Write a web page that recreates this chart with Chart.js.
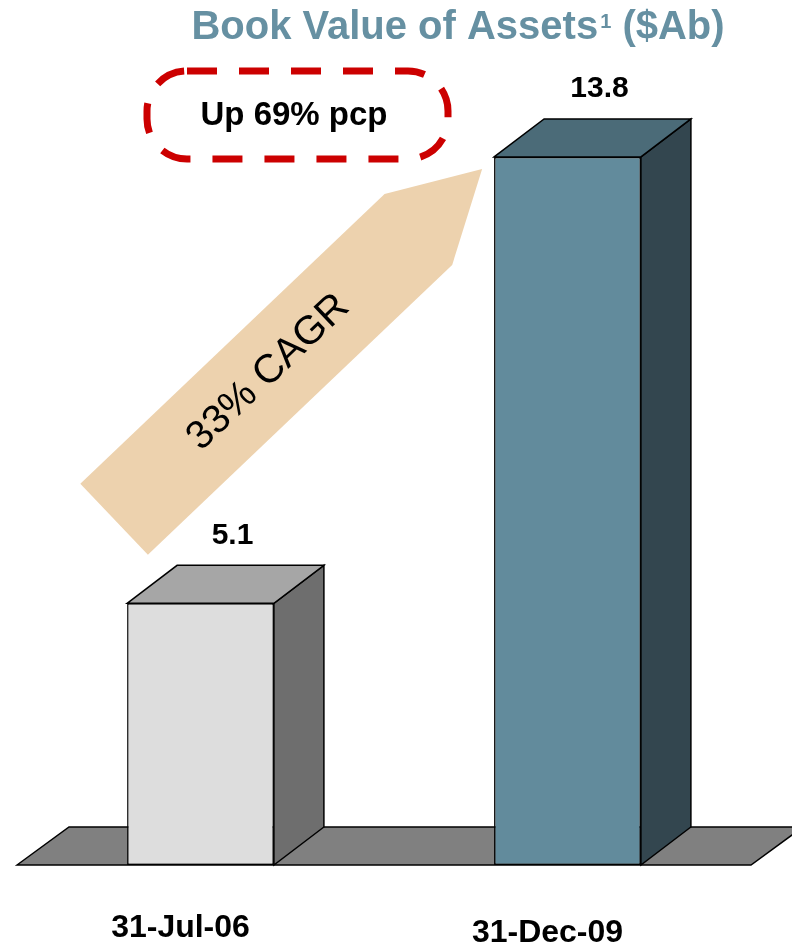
<!DOCTYPE html>
<html>
<head>
<meta charset="utf-8">
<script src="https://cdn.jsdelivr.net/npm/chart.js@4.4.1/dist/chart.umd.min.js"></script>
<style>
  html, body { margin: 0; padding: 0; background: #fff; }
</style>
</head>
<body>
<canvas id="chart" width="792" height="946"></canvas>
<script>
/* === DATA === */
const categories = ['31-Jul-06', '31-Dec-09'];
const bookValues = [5.1, 13.8];
const frontColors = ['#DDDDDD', '#628B9C'];
const topColors = ['#A6A6A6', '#4B6B78'];
const sideColors = ['#6E6E6E', '#33464F'];
const titleMain = 'Book Value of Assets';
const titleSup = '1';
const titleTail = ' ($Ab)';
const growthNote = 'Up 69% pcp';
const cagrNote = '33% CAGR';

const FONT = '"Liberation Sans", Arial, sans-serif';
const DX = 50, DY = 38; // hloubka 3D efektu

function poly(ctx, pts, fill) {
    ctx.beginPath();
    ctx.moveTo(pts[0][0], pts[0][1]);
    for (let i = 1; i < pts.length; i++) ctx.lineTo(pts[i][0], pts[i][1]);
    ctx.closePath();
    ctx.fillStyle = fill;
    ctx.fill();
    ctx.stroke();
}

function roundRect(ctx, x, y, w, h, r) {
    ctx.beginPath();
    ctx.moveTo(x + r, y);
    ctx.lineTo(x + w - r, y);
    ctx.arcTo(x + w, y, x + w, y + r, r);
    ctx.lineTo(x + w, y + h - r);
    ctx.arcTo(x + w, y + h, x + w - r, y + h, r);
    ctx.lineTo(x + r, y + h);
    ctx.arcTo(x, y + h, x, y + h - r, r);
    ctx.lineTo(x, y + r);
    ctx.arcTo(x, y, x + r, y, r);
    ctx.closePath();
}

const box3d = {
    id: 'box3d',
    beforeDatasetsDraw(chart) {
        const { ctx, chartArea } = chart;
        const b = chartArea.bottom;
        ctx.save();
        ctx.lineWidth = 1.5;
        ctx.strokeStyle = '#000';
        poly(ctx, [
            [chartArea.left, b], [chartArea.left + 52, b - DY],
            [chartArea.right + 52, b - DY], [chartArea.right, b]
        ], '#808080');
        ctx.restore();
    },
    afterDatasetsDraw(chart) {
        const { ctx } = chart;
        const meta = chart.getDatasetMeta(0);
        ctx.save();
        ctx.lineWidth = 1.5;
        ctx.strokeStyle = '#000';
        meta.data.forEach((bar, i) => {
            const half = bar.width / 2;
            const l = bar.x - half, r = bar.x + half, t = bar.y, bt = bar.base;
            poly(ctx, [[r, bt], [r, t], [r + DX, t - DY], [r + DX, bt - DY]], sideColors[i]);
            poly(ctx, [[l, t], [l + DX, t - DY], [r + DX, t - DY], [r, t]], topColors[i]);
            ctx.fillStyle = '#000';
            ctx.font = 'bold 30px ' + FONT;
            ctx.textAlign = 'center';
            ctx.textBaseline = 'middle';
            ctx.fillText(bookValues[i].toFixed(1), bar.x + 32, t - 68);
        });
        ctx.restore();
    },
    afterDraw(chart) {
        const { ctx } = chart;
        const bars = chart.getDatasetMeta(0).data;
        ctx.save();

        // titulek s horním indexem
        ctx.fillStyle = '#6690A2';
        ctx.textAlign = 'left';
        ctx.textBaseline = 'alphabetic';
        const mainFont = 'bold 40px ' + FONT, supFont = 'bold 20px ' + FONT;
        ctx.font = mainFont;
        const w1 = ctx.measureText(titleMain).width;
        const w3 = ctx.measureText(titleTail).width;
        ctx.font = supFont;
        const w2 = ctx.measureText(titleSup).width + 2;
        let tx = 458 - (w1 + w2 + w3) / 2;
        ctx.font = mainFont;
        ctx.fillText(titleMain, tx, 39);
        ctx.font = supFont;
        ctx.fillText(titleSup, tx + w1 + 2, 28);
        ctx.font = mainFont;
        ctx.fillText(titleTail, tx + w1 + w2, 39);

        // šipka CAGR
        const b1 = bars[0], b2 = bars[1];
        const tail = [b1.x - b1.width / 2 - 13, b1.y - 84];
        const tip = [b2.x - b2.width / 2 - 12, b2.y + 12];
        const len = Math.hypot(tip[0] - tail[0], tip[1] - tail[1]);
        const ux = (tip[0] - tail[0]) / len, uy = (tip[1] - tail[1]) / len;
        const nx = -uy, ny = ux;
        const w = 49, head = 88;
        const hb = [tip[0] - ux * head, tip[1] - uy * head];
        ctx.beginPath();
        ctx.moveTo(tail[0] + nx * w, tail[1] + ny * w);
        ctx.lineTo(hb[0] + nx * w, hb[1] + ny * w);
        ctx.lineTo(tip[0], tip[1]);
        ctx.lineTo(hb[0] - nx * w, hb[1] - ny * w);
        ctx.lineTo(tail[0] - nx * w, tail[1] - ny * w);
        ctx.closePath();
        ctx.fillStyle = '#EDD2AE';
        ctx.fill();

        ctx.save();
        ctx.translate(tail[0] + ux * 213, tail[1] + uy * 213);
        ctx.rotate(Math.atan2(uy, ux));
        ctx.fillStyle = '#000';
        ctx.font = '40px ' + FONT;
        ctx.textAlign = 'center';
        ctx.textBaseline = 'middle';
        ctx.fillText(cagrNote, 0, 0);
        ctx.restore();

        // přerušovaný rámeček
        ctx.strokeStyle = '#CC0000';
        ctx.lineWidth = 7;
        ctx.setLineDash([30, 22]);
        roundRect(ctx, 147, 71, 301, 88, 40);
        ctx.stroke();
        ctx.setLineDash([]);
        ctx.fillStyle = '#000';
        ctx.font = 'bold 33px ' + FONT;
        ctx.textAlign = 'center';
        ctx.textBaseline = 'alphabetic';
        ctx.fillText(growthNote, 294, 125);

        ctx.restore();
    }
};

const chart = new Chart(document.getElementById('chart'), {
    type: 'bar',
    data: {
        labels: categories,
        datasets: [{
            data: bookValues,
            backgroundColor: frontColors,
            borderColor: '#000',
            borderWidth: 1.5,
            borderSkipped: false,
            barPercentage: 0.4,
            categoryPercentage: 1.0
        }]
    },
    options: {
        responsive: false,
        animation: false,
        devicePixelRatio: 1,
        layout: { padding: { top: 44, left: 17, right: 41, bottom: 0 } },
        plugins: {
            legend: { display: false },
            tooltip: { enabled: false },
            title: { display: false }
        },
        scales: {
            x: {
                grid: { display: false, drawTicks: false },
                border: { display: false },
                ticks: {
                    color: '#000',
                    font: (c) => ({ family: FONT, size: 32, weight: 'bold', lineHeight: c.index === 1 ? 1.5 : 1.2 }),
                    padding: 44,
                    labelOffset: -20,
                    maxRotation: 0
                },
                afterFit(scale) { scale.height = 81; }
            },
            y: {
                display: false,
                min: 0,
                max: 16
            }
        }
    },
    plugins: [box3d]
});
</script>
</body>
</html>
